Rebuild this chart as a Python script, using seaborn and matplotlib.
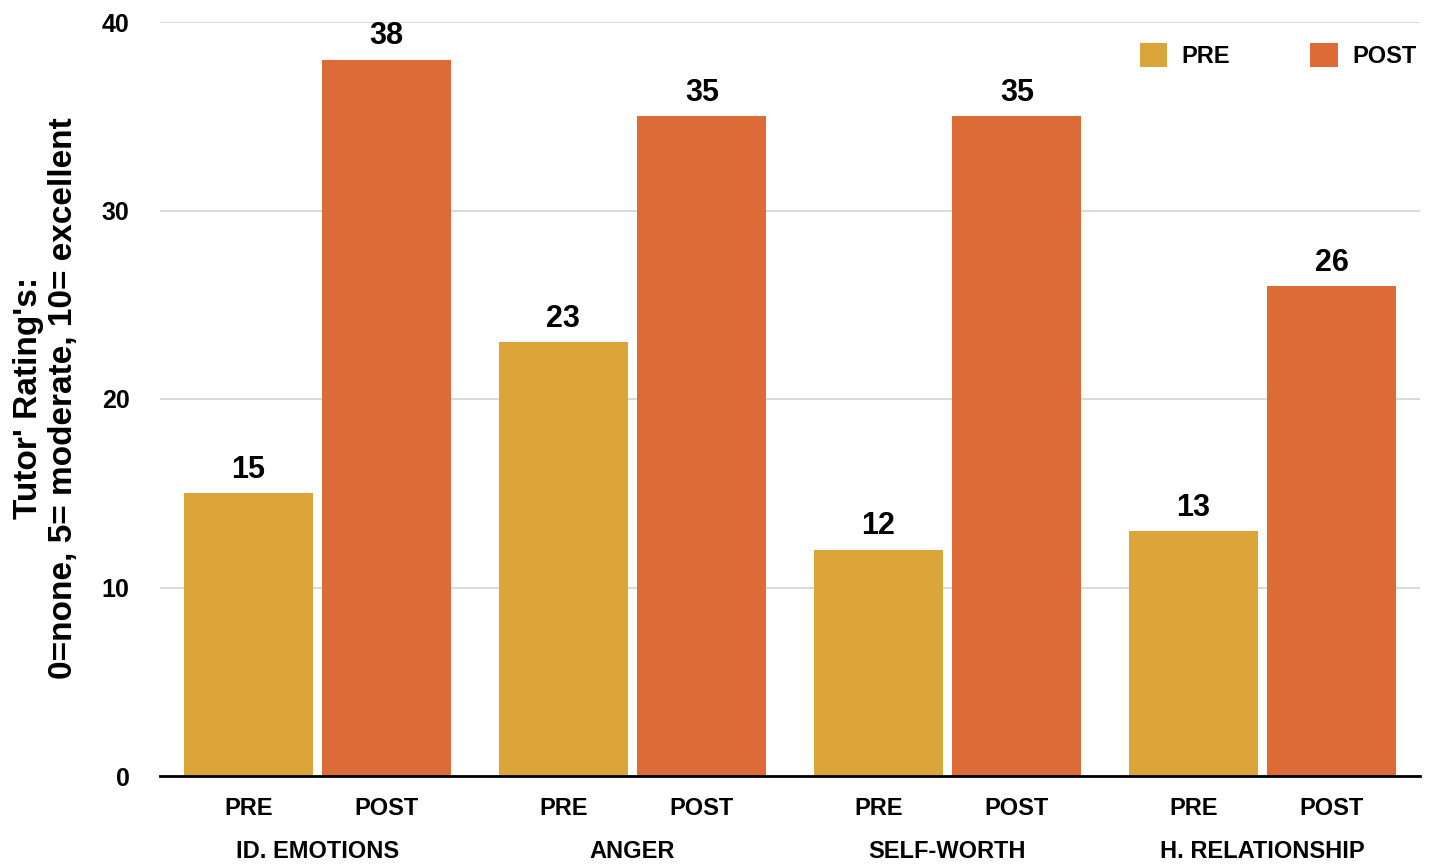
import matplotlib
matplotlib.use("Agg")
import matplotlib.pyplot as plt
import seaborn as sns
import pandas as pd
import numpy as np
from matplotlib.patches import Patch

categories = ["ID. EMOTIONS", "ANGER", "SELF-WORTH", "H. RELATIONSHIP"]
phases = ["PRE", "POST"]
pre_values = [15, 23, 12, 13]
post_values = [38, 35, 35, 26]
y_ticks = [0, 10, 20, 30, 40]
colors = {"PRE": "#DCA539", "POST": "#DC6B37"}

sns.set_theme(style="white")
plt.rcParams["font.family"] = ["Liberation Sans", "DejaVu Sans"]
plt.rcParams.update({"text.color": "black", "axes.labelcolor": "black",
                     "xtick.color": "black", "ytick.color": "black"})

df = pd.DataFrame({
    "category": categories * 2,
    "phase": ["PRE"] * len(categories) + ["POST"] * len(categories),
    "value": pre_values + post_values,
})

fig = plt.figure(figsize=(14.36, 8.68), dpi=100)
ax = fig.add_axes([160 / 1436, 1 - 776 / 868, 1260 / 1436, 754 / 868])

sns.barplot(data=df, x="category", y="value", hue="phase", order=categories,
            hue_order=phases, palette=colors, width=0.88, gap=0.07,
            saturation=1, linewidth=0, legend=False, ax=ax)

# value labels above each bar
for cont in ax.containers:
    ax.bar_label(cont, fmt="%d", padding=6, fontsize=22, fontweight="bold")

ax.set_ylim(0, 40)
ax.set_xlim(-0.5, len(categories) - 0.5)
ax.set_yticks(y_ticks)
ax.set_yticklabels([str(t) for t in y_ticks], fontsize=18, fontweight="bold")
ax.tick_params(axis="y", length=0, pad=22)
ax.grid(axis="y", color="#d3d3d3", linewidth=1.2)
ax.set_axisbelow(True)

for s in ["top", "right", "left"]:
    ax.spines[s].set_visible(False)
ax.spines["bottom"].set_color("black")
ax.spines["bottom"].set_linewidth(2)

# group names on major ticks, PRE/POST on minor ticks
xpos = np.arange(len(categories))
ax.set_xticks(xpos)
ax.set_xticklabels(categories, fontsize=17, fontweight="bold")
ax.tick_params(axis="x", which="major", length=0, pad=46)
minor_pos = np.concatenate([xpos - 0.22, xpos + 0.22])
minor_lab = ["PRE"] * len(categories) + ["POST"] * len(categories)
ax.set_xticks(minor_pos, minor=True)
ax.set_xticklabels(minor_lab, minor=True, fontsize=17, fontweight="bold")
ax.tick_params(axis="x", which="minor", length=0, pad=15)
ax.set_xlabel("")

ax.set_ylabel("Tutor' Rating's:\n0=none, 5= moderate, 10= excellent",
              fontsize=24, fontweight="bold", linespacing=1.15)
ax.yaxis.set_label_coords(-0.0643, 0.501)

handles = [Patch(facecolor=colors[p], edgecolor="none") for p in phases]
ax.legend(handles, phases, loc="upper right", bbox_to_anchor=(1.014, 1.0),
          ncol=2, frameon=False, prop={"weight": "bold", "size": 17},
          handlelength=1.15, handleheight=1.15, columnspacing=3.4,
          handletextpad=0.62)

fig.savefig("out.png", dpi=100)
